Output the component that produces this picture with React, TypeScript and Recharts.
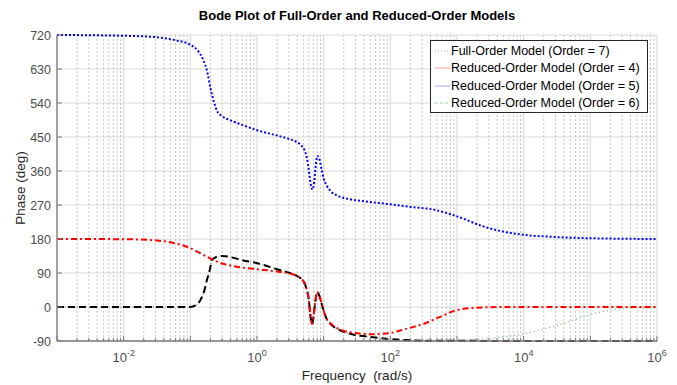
import { LineChart, Line, XAxis, YAxis, CartesianGrid, ReferenceLine } from 'recharts';

// phase responses (deg), frequencies in rad/s
const fullFreq = [0.001, 0.01, 0.0316, 0.06, 0.1, 0.13, 0.158, 0.178, 0.2, 0.224, 0.25, 0.3, 0.4, 0.6, 1, 2, 3, 4, 4.6, 5.2, 5.6, 6.0, 6.4, 6.8, 7.2, 7.6, 8.0, 8.5, 9.3, 10, 11, 13, 16, 25, 40, 100, 200, 440, 1000, 2500, 5500, 10000, 25000, 100000, 1000000];
const fullPhase = [720, 718, 714, 706, 694, 678, 652, 625, 580, 545, 520, 505, 494, 482, 468, 454, 445, 436, 428, 414, 395, 360, 325, 311, 330, 375, 400, 395, 365, 340, 323, 305, 295, 285, 280, 272, 265, 258, 240, 213, 198, 191, 186, 182, 180];

const order4Freq = [0.001, 0.01, 0.0316, 0.06, 0.1, 0.15, 0.224, 0.3, 0.447, 0.7, 1, 2, 3, 4, 4.6, 5.2, 5.6, 6.0, 6.3, 6.7, 7.1, 7.5, 8.0, 8.6, 9.3, 10, 11, 13, 16, 25, 55, 100, 140, 200, 313, 556, 1000, 2000, 5000, 1000000];
const order4Phase = [180, 179.5, 176, 168, 156, 140, 124, 115, 108, 103, 100, 94, 89, 82, 75, 62, 45, 18, -20, -45, -20, 15, 40, 30, 10, -10, -30, -45, -56, -67, -72, -69, -62, -55, -45, -26, -8, -2, 0, 0];

const order5Freq = [0.001, 0.1, 0.12, 0.141, 0.16, 0.178, 0.2, 0.21, 0.25, 0.3, 0.447, 0.6, 1, 2, 3, 4, 4.6, 5.2, 5.6, 6.0, 6.3, 6.7, 7.1, 7.5, 8.0, 8.6, 9.3, 10, 11, 13, 16, 25, 55, 140, 500, 1000000];
const order5Phase = [0, 0, 4, 18, 40, 72, 105, 124, 133, 135, 130, 124, 116, 100, 91, 82, 75, 62, 45, 18, -20, -45, -20, 15, 40, 30, 10, -10, -30, -47, -58, -71, -80, -87, -89.5, -90];

const order6Freq = [0.001, 0.1, 0.12, 0.141, 0.16, 0.178, 0.2, 0.21, 0.25, 0.3, 0.447, 0.6, 1, 2, 3, 4, 4.6, 5.2, 5.6, 6.0, 6.3, 6.7, 7.1, 7.5, 8.0, 8.6, 9.3, 10, 11, 13, 16, 25, 55, 140, 500, 1000, 3000, 10000, 30000, 100000, 300000, 1000000];
const order6Phase = [0, 0, 4, 18, 40, 72, 105, 124, 133, 135, 130, 124, 116, 100, 91, 82, 75, 62, 45, 18, -20, -45, -20, 15, 40, 30, 10, -10, -30, -47, -58, -71, -80, -87, -89, -88, -83, -71, -50, -20, -4, 0];

const phaseTicks = [-90, 0, 90, 180, 270, 360, 450, 540, 630, 720];
const decadeTicks = [1e-3, 1e-2, 1e-1, 1, 1e1, 1e2, 1e3, 1e4, 1e5, 1e6];
const labelledDecades = [1e-2, 1, 1e2, 1e4, 1e6];
const minorTicks = decadeTicks.slice(0, -1).flatMap((d) => [2, 3, 4, 5, 6, 7, 8, 9].map((m) => m * d));
const allFreqTicks = [...decadeTicks, ...minorTicks].sort((a, b) => a - b);

const legendItems = [
  { name: 'Full-Order Model (Order = 7)', color: '#b0b0b0', dash: '1 2' },
  { name: 'Reduced-Order Model (Order = 4)', color: '#f4a0a0', dash: undefined },
  { name: 'Reduced-Order Model (Order = 5)', color: '#a0a0f4', dash: undefined },
  { name: 'Reduced-Order Model (Order = 6)', color: '#90d890', dash: '3 2' },
];

const toPoints = (freq: number[], phase: number[]) => freq.map((f, i) => ({ f, phase: phase[i] }));

const FONT = '"Liberation Sans", Arial, sans-serif';
const AXIS = '#7a7a7a';
const TICK_TEXT = '#4d4d4d';

const isMajor = (v: number) => decadeTicks.some((d) => Math.abs(d - v) / d < 1e-9);

function BottomTick({ x, y, payload }: any) {
  const v = payload.value;
  const major = isMajor(v);
  const labelled = labelledDecades.some((d) => Math.abs(d - v) / d < 1e-9);
  const exp = Math.round(Math.log10(v));
  return (
    <g>
      <line x1={x} x2={x} y1={y} y2={y - (major ? 5 : 3)} stroke={AXIS} />
      {labelled && (
        <text x={x} y={y + 21} textAnchor="middle" fill={TICK_TEXT} fontSize={13} fontFamily={FONT}>
          10<tspan dy={-6} fontSize={9}>{exp}</tspan>
        </text>
      )}
    </g>
  );
}

function TopTick({ x, y, payload }: any) {
  const major = isMajor(payload.value);
  return <line x1={x} x2={x} y1={y} y2={y + (major ? 5 : 3)} stroke={AXIS} />;
}

function LeftTick({ x, y, payload }: any) {
  return (
    <g>
      <line x1={x} x2={x + 5} y1={y} y2={y} stroke={AXIS} />
      <text x={x - 6} y={y + 4.5} textAnchor="end" fill={TICK_TEXT} fontSize={12.5} fontFamily={FONT}>
        {payload.value}
      </text>
    </g>
  );
}

function RightTick({ x, y }: any) {
  return <line x1={x} x2={x - 5} y1={y} y2={y} stroke={AXIS} />;
}

export default function App() {
  return (
    <div style={{ position: 'absolute', left: 0, top: 0, width: 677, height: 385, background: '#fff', fontFamily: FONT }}>
      <div style={{ position: 'absolute', left: 57, top: 8, width: 600, textAlign: 'center', fontWeight: 'bold', fontSize: 13, color: '#000' }}>
        Bode Plot of Full-Order and Reduced-Order Models
      </div>
      <LineChart width={677} height={385} margin={{ top: 35, right: 20, bottom: 14, left: 10 }}>
        <CartesianGrid vertical={false} stroke="#dcdcdc" strokeWidth={1.2} />
        {minorTicks.map((f) => (
          <ReferenceLine key={`m${f}`} x={f} stroke="#c4c4c4" strokeDasharray="2 2" zIndex={-50} />
        ))}
        {decadeTicks.map((f) => (
          <ReferenceLine key={`d${f}`} x={f} stroke="#dcdcdc" strokeWidth={1.2} zIndex={-50} />
        ))}
        <XAxis
          dataKey="f"
          type="number"
          scale="log"
          domain={[1e-3, 1e6]}
          allowDataOverflow
          ticks={allFreqTicks}
          interval={0}
          tick={<BottomTick />}
          tickLine={false}
          tickSize={0}
          tickMargin={0}
          height={30}
          axisLine={{ stroke: AXIS, strokeWidth: 1.3 }}
          label={{ value: 'Frequency\u00a0 (rad/s)', position: 'bottom', offset: -1, fill: '#262626', fontSize: 13.5 }}
        />
        <XAxis
          xAxisId="top"
          orientation="top"
          dataKey="f"
          type="number"
          scale="log"
          domain={[1e-3, 1e6]}
          allowDataOverflow
          ticks={allFreqTicks}
          interval={0}
          tick={<TopTick />}
          tickLine={false}
          tickSize={0}
          tickMargin={0}
          height={0}
          axisLine={{ stroke: AXIS, strokeWidth: 1.3 }}
        />
        <YAxis
          type="number"
          domain={[-90, 720]}
          ticks={phaseTicks}
          interval={0}
          tick={<LeftTick />}
          tickLine={false}
          tickSize={0}
          tickMargin={0}
          width={47}
          axisLine={{ stroke: AXIS, strokeWidth: 1.3 }}
          label={{ value: 'Phase (deg)', angle: -90, position: 'insideLeft', offset: 10, fill: '#262626', fontSize: 13.5, style: { textAnchor: 'middle' } }}
        />
        <YAxis
          yAxisId="right"
          orientation="right"
          type="number"
          domain={[-90, 720]}
          ticks={phaseTicks}
          interval={0}
          tick={<RightTick />}
          tickLine={false}
          tickSize={0}
          tickMargin={0}
          width={0}
          axisLine={{ stroke: AXIS, strokeWidth: 1.3 }}
        />
        <Line data={toPoints(order6Freq, order6Phase)} dataKey="phase" type="monotone" stroke="#6cc46c" strokeWidth={1.3} strokeDasharray="1 3" dot={false} isAnimationActive={false} />
        <Line data={toPoints(order5Freq, order5Phase)} dataKey="phase" type="monotone" stroke="#000" strokeWidth={2} strokeDasharray="7 4" dot={false} isAnimationActive={false} />
        <Line data={toPoints(fullFreq, fullPhase)} dataKey="phase" type="monotone" stroke="#0000ff" strokeWidth={2} strokeDasharray="2 2" dot={false} isAnimationActive={false} />
        <Line data={toPoints(order4Freq, order4Phase)} dataKey="phase" type="monotone" stroke="#ff0000" strokeWidth={2} strokeDasharray="6 3 2 3" dot={false} isAnimationActive={false} />
      </LineChart>
      <div style={{ position: 'absolute', left: 430, top: 40, width: 216, height: 70, border: '1px solid #262626', background: '#fff', paddingTop: 1 }}>
        {legendItems.map((item) => (
          <div key={item.name} style={{ display: 'flex', alignItems: 'center', height: 17.5, fontSize: 12.5, color: '#000' }}>
            <svg width={20} height={10} style={{ flex: 'none' }}>
              <line x1={4} x2={19} y1={5} y2={5} stroke={item.color} strokeWidth={1} strokeDasharray={item.dash} />
            </svg>
            <span style={{ whiteSpace: 'nowrap' }}>{item.name}</span>
          </div>
        ))}
      </div>
    </div>
  );
}
